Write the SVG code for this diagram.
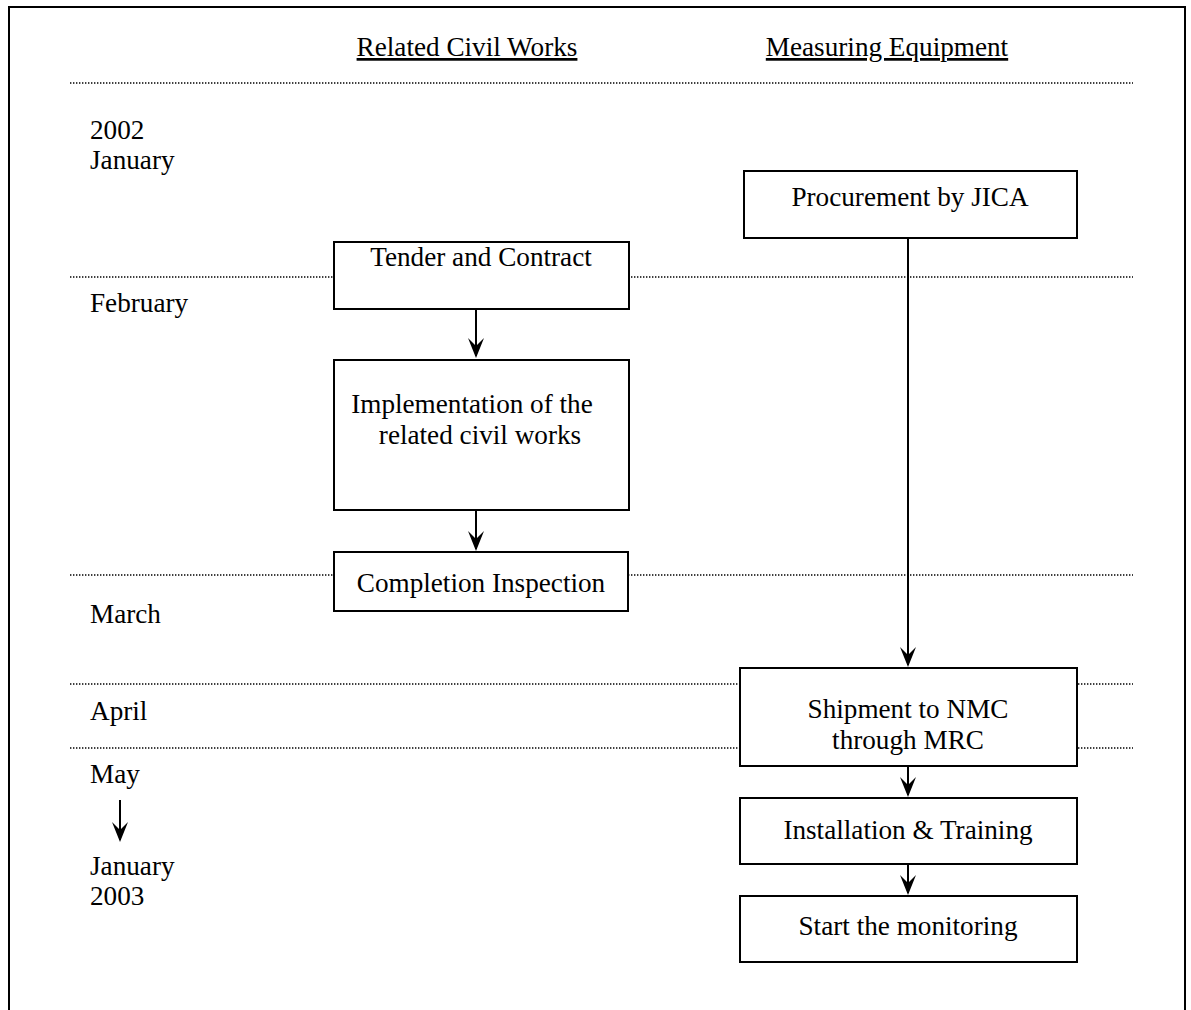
<svg xmlns="http://www.w3.org/2000/svg" width="1191" height="1010" viewBox="0 0 1191 1010">
<style>
text{font-family:"Liberation Serif","Times New Roman",serif;font-size:27.2px;fill:#000}
.c{text-anchor:middle}
.u{text-decoration:underline}
.dot{stroke:#000;stroke-width:1.3;stroke-dasharray:1.4 1.6;fill:none}
.box{fill:#fff;stroke:#000;stroke-width:2}
.con{stroke:#000;stroke-width:2;fill:none;marker-end:url(#ah)}
</style>
<defs>
<marker id="ah" viewBox="0 0 20 16" refX="18" refY="8" markerWidth="20" markerHeight="16" markerUnits="userSpaceOnUse" orient="auto">
<path d="M0,0 L20,8 L0,16 L8,8 Z" fill="#000"/>
</marker>
</defs>
<rect width="1191" height="1010" fill="#fff"/>
<rect x="9" y="7" width="1176" height="1020" fill="none" stroke="#000" stroke-width="2"/>
<g id="gridlines">
<line class="dot" x1="70" y1="83" x2="1133" y2="83"/>
<line class="dot" x1="70" y1="277" x2="1133" y2="277"/>
<line class="dot" x1="70" y1="575" x2="1133" y2="575"/>
<line class="dot" x1="70" y1="684" x2="1133" y2="684"/>
<line class="dot" x1="70" y1="748" x2="1133" y2="748"/>
</g>
<g id="headers">
<text class="c u" x="467" y="56">Related Civil Works</text>
<text class="c u" x="887" y="56">Measuring Equipment</text>
</g>
<g id="timeline">
<text x="90" y="139">2002</text>
<text x="90" y="169">January</text>
<text x="90" y="312">February</text>
<text x="90" y="623">March</text>
<text x="90" y="720">April</text>
<text x="90" y="783">May</text>
<text x="90" y="875">January</text>
<text x="90" y="905">2003</text>
</g>
<g id="connectors">
<line class="con" x1="476" y1="310" x2="476" y2="356"/>
<line class="con" x1="476" y1="511" x2="476" y2="549"/>
<line class="con" x1="908" y1="239" x2="908" y2="665"/>
<line class="con" x1="908" y1="767" x2="908" y2="795"/>
<line class="con" x1="908" y1="865" x2="908" y2="893"/>
<line class="con" x1="120" y1="800" x2="120" y2="840"/>
</g>
<g id="node-tender">
<rect class="box" x="334" y="242" width="295" height="67"/>
<text class="c" x="481" y="266">Tender and Contract</text>
</g>
<g id="node-implementation">
<rect class="box" x="334" y="360" width="295" height="150"/>
<text class="c" x="472" y="413">Implementation of the</text>
<text class="c" x="480" y="444">related civil works</text>
</g>
<g id="node-completion">
<rect class="box" x="334" y="552" width="294" height="59"/>
<text class="c" x="481" y="592">Completion Inspection</text>
</g>
<g id="node-procurement">
<rect class="box" x="744" y="171" width="333" height="67"/>
<text class="c" x="910" y="206">Procurement by JICA</text>
</g>
<g id="node-shipment">
<rect class="box" x="740" y="668" width="337" height="98"/>
<text class="c" x="908" y="718">Shipment to NMC</text>
<text class="c" x="908" y="749">through MRC</text>
</g>
<g id="node-installation">
<rect class="box" x="740" y="798" width="337" height="66"/>
<text class="c" x="908" y="839">Installation &amp; Training</text>
</g>
<g id="node-monitoring">
<rect class="box" x="740" y="896" width="337" height="66"/>
<text class="c" x="908" y="935">Start the monitoring</text>
</g>
</svg>
